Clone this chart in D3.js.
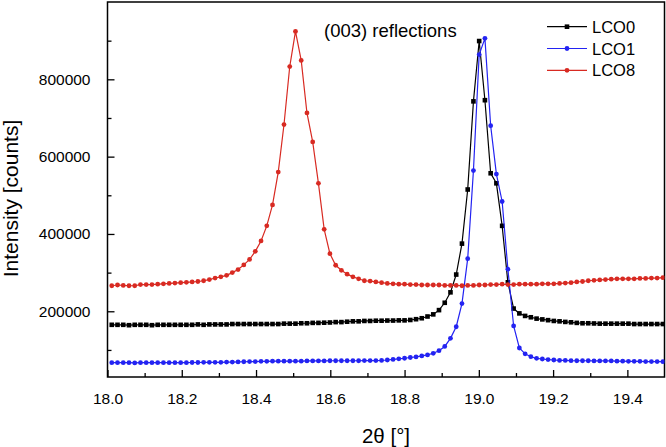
<!DOCTYPE html>
<html><head><meta charset="utf-8">
<script src="https://cdn.jsdelivr.net/npm/d3@7"></script>
<style>
body{margin:0;background:#fff}
svg{display:block}
text{font-family:"Liberation Sans",Arial,sans-serif;fill:#000}
</style>
</head><body>
<svg id="chart" width="666" height="447"></svg>
<script>
// scan grid of the diffractometer (start angle and step, degrees 2theta)
const scanStart = 18.0115;
const scanStep = 0.01546;

const seriesNames = ["LCO0", "LCO1", "LCO8"];
const seriesColors = ["#000000", "#2323f2", "#d82a22"];

const lco0 = [
165000,165000,165000,164000,165000,165000,165000,164000,165000,165000,
165000,165000,165000,165000,165000,166000,165000,166000,166000,166000,
166000,167000,167000,167000,167000,167000,167000,167000,167000,167000,
168000,168000,168000,169000,169000,170000,170000,170500,171000,172000,
172000,173000,174000,174000,175000,175000,175600,175600,176000,176000,
176500,176500,177500,179500,182000,186500,192000,203000,222000,249000,
295000,375000,515000,743000,899000,746000,557000,531000,421000,275000,
207000,194500,188000,184500,181000,179000,177000,175000,174000,172500,
171500,170000,169000,169000,168500,168000,168000,168000,168000,168000,
168000,167000,167000,167000,167000,167000,167000];

const lco1 = [
67000,67000,67000,67000,66500,67000,67000,67000,67000,67000,
67000,67000,67000,67000,67500,67500,68000,68000,68000,68000,
68500,68500,69000,69500,70000,70000,70500,70500,71000,71000,
71000,71000,71000,71000,71500,71500,71500,71500,72000,72000,
72000,72000,72000,72000,72500,72500,72500,73000,74000,75500,
77000,78500,80500,82000,84500,87000,91300,98000,109000,130000,
160000,220000,336000,564000,864000,906000,680000,555000,484000,309000,
162000,105000,90000,82500,78300,76600,75000,74000,73000,73000,
72300,72000,72000,72000,71500,71500,71500,71500,71000,71000,
70500,70500,70500,70000,70000,70000,69700];

const lco8 = [
266000,268000,267000,266000,266000,269000,269000,269000,270000,271000,
272000,273000,274000,275000,276000,277000,279000,282000,286000,289000,
293000,300000,308000,320000,334000,355000,382000,421000,475000,560000,
683000,833000,924000,849000,713000,638000,531000,412000,349000,319000,
306000,296000,289000,284000,279000,278000,276000,274000,272000,271000,
270000,270000,269000,269000,268000,268000,268000,268000,267000,267000,
267000,266000,267000,267000,268000,268000,269000,269000,270000,269000,
269000,270000,270000,270000,270000,271000,271000,271000,272000,273000,
274000,276000,277000,279000,280000,281000,282000,283000,284000,284000,
284000,284000,285000,285000,286000,286000,287000];

const xMajorTicks = [18.0, 18.2, 18.4, 18.6, 18.8, 19.0, 19.2, 19.4];
const xMinorTicks = [18.1, 18.3, 18.5, 18.7, 18.9, 19.1, 19.3];
const yMajorTicks = [200000, 400000, 600000, 800000];
const yMinorTicks = [100000, 300000, 500000, 700000, 900000];
const xDomain = [18.0, 19.5];
const yDomain = [30000, 1000000];
const xTitle = "2θ [°]";
const yTitle = "Intensity [counts]";
const annotation = "(003) reflections";

const svg = d3.select("#chart");
const L = 107.5, R = 664.5, T = 2, B = 377;
const x = d3.scaleLinear().domain(xDomain).range([L, R]);
const y = d3.scaleLinear().domain(yDomain).range([B, T]);

svg.append("defs").append("clipPath").attr("id", "clip")
  .append("rect").attr("x", L).attr("y", T).attr("width", R - L).attr("height", B - T);

// axes
svg.append("g").attr("transform", `translate(0,${B})`)
  .call(d3.axisBottom(x).tickValues(xMajorTicks).tickFormat(d3.format(".1f"))
    .tickSizeInner(-7).tickSizeOuter(0).tickPadding(16));
svg.append("g").attr("transform", `translate(0,${B})`)
  .call(d3.axisBottom(x).tickValues(xMinorTicks).tickFormat("")
    .tickSizeInner(-4).tickSizeOuter(0));
svg.append("g").attr("transform", `translate(${L},0)`)
  .call(d3.axisLeft(y).tickValues(yMajorTicks).tickFormat(d3.format("d"))
    .tickSizeInner(-7).tickSizeOuter(0).tickPadding(17));
svg.append("g").attr("transform", `translate(${L},0)`)
  .call(d3.axisLeft(y).tickValues(yMinorTicks).tickFormat("")
    .tickSizeInner(-4).tickSizeOuter(0));
svg.selectAll(".domain").remove();
svg.selectAll(".tick line").attr("stroke", "#000").attr("stroke-width", 1.3);
svg.selectAll(".tick text").attr("font-size", 15.5).attr("font-family", "Liberation Sans, Arial, sans-serif").attr("fill", "#000");

// frame
svg.append("rect").attr("x", L).attr("y", T).attr("width", R - L).attr("height", B - T)
  .attr("fill", "none").attr("stroke", "#000").attr("stroke-width", 1.5);

// data
const seriesData = [lco0, lco1, lco8];
const plot = svg.append("g").attr("clip-path", "url(#clip)");
const line = d3.line().x((d, i) => x(scanStart + i * scanStep)).y(d => y(d));
seriesData.forEach((vals, s) => {
  const g = plot.append("g");
  g.append("path").datum(vals).attr("d", line).attr("fill", "none")
    .attr("stroke", seriesColors[s]).attr("stroke-width", 1.2);
  if (s === 0) {
    g.selectAll("rect").data(vals).join("rect")
      .attr("x", (d, i) => x(scanStart + i * scanStep) - 2.3)
      .attr("y", d => y(d) - 2.3).attr("width", 4.6).attr("height", 4.6)
      .attr("fill", seriesColors[s]);
  } else {
    g.selectAll("circle").data(vals).join("circle")
      .attr("cx", (d, i) => x(scanStart + i * scanStep))
      .attr("cy", d => y(d)).attr("r", 2.4).attr("fill", seriesColors[s]);
  }
});

// legend
const lg = svg.append("g");
seriesNames.forEach((name, s) => {
  const cy = 26.7 + s * 21.8;
  lg.append("line").attr("x1", 547).attr("x2", 587).attr("y1", cy).attr("y2", cy)
    .attr("stroke", seriesColors[s]).attr("stroke-width", 1.2);
  if (s === 0) lg.append("rect").attr("x", 564.7).attr("y", cy - 2.3).attr("width", 4.6).attr("height", 4.6).attr("fill", seriesColors[s]);
  else lg.append("circle").attr("cx", 567).attr("cy", cy).attr("r", 2.4).attr("fill", seriesColors[s]);
  lg.append("text").attr("x", 592).attr("y", cy + 6).attr("font-size", 16.5).text(name);
});

// annotation
svg.append("text").attr("x", 324).attr("y", 37).attr("font-size", 18.5).text(annotation);

// axis titles
svg.append("text").attr("x", (L + R) / 2).attr("y", 443).attr("text-anchor", "middle")
  .attr("font-size", 20.5).text(xTitle);
svg.append("text").attr("transform", `translate(18,${(T + B) / 2 + 9}) rotate(-90)`)
  .attr("text-anchor", "middle").attr("font-size", 21).text(yTitle);
</script>
</body></html>
